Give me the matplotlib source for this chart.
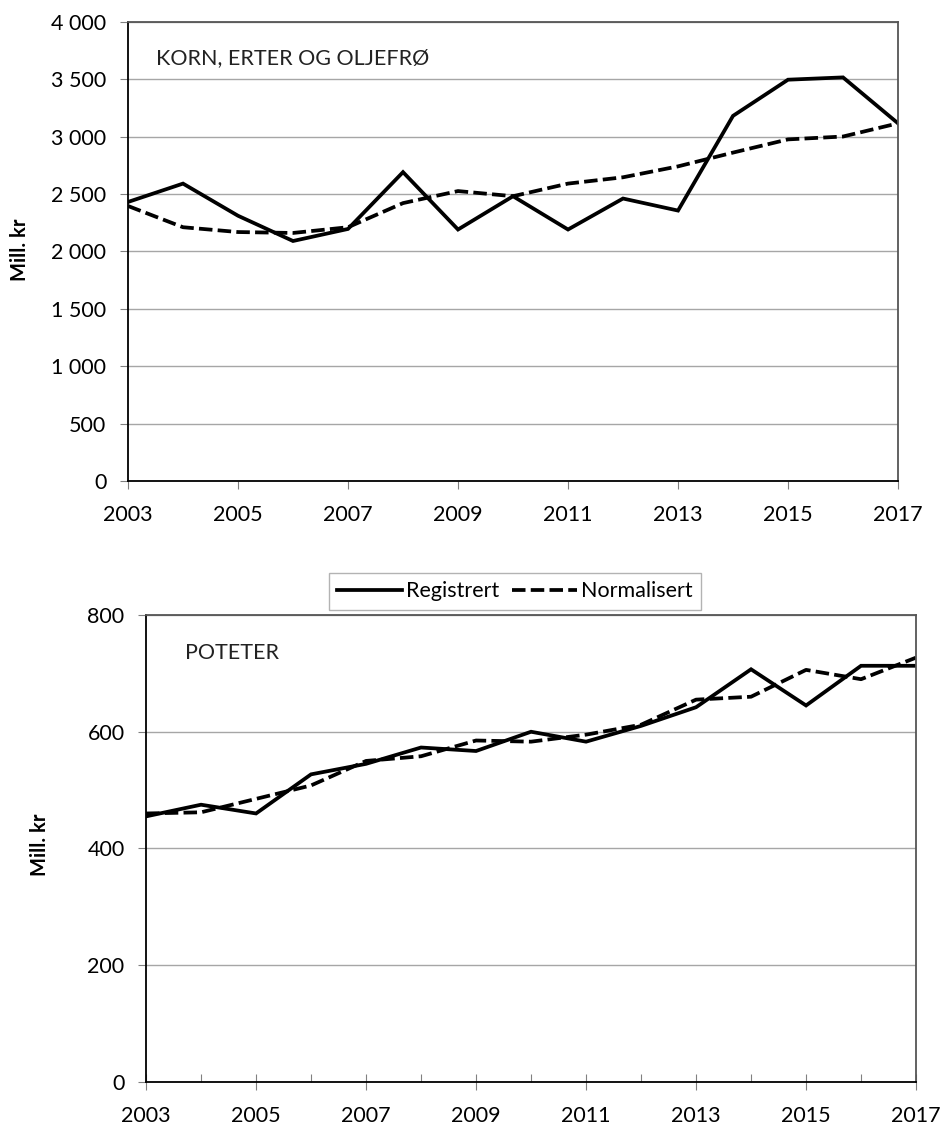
import matplotlib
matplotlib.use("Agg")
import matplotlib.pyplot as plt
from matplotlib.ticker import FuncFormatter, MultipleLocator

plt.rcParams['font.family'] = ['Lato', 'DejaVu Sans']

# data
years = list(range(2003, 2018))
korn_reg = [2430, 2590, 2310, 2090, 2195, 2690, 2190, 2480, 2190, 2460, 2355, 3180, 3495, 3515, 3115]
korn_norm = [2395, 2210, 2168, 2160, 2210, 2420, 2525, 2480, 2590, 2645, 2740, 2860, 2975, 3000, 3115]
pot_reg = [455, 475, 460, 527, 545, 573, 567, 600, 583, 610, 642, 707, 645, 713, 713]
pot_norm = [460, 462, 485, 508, 550, 558, 585, 583, 595, 612, 655, 660, 706, 690, 727]
xticks = [2003, 2005, 2007, 2009, 2011, 2013, 2015, 2017]

fs = 15.5
lw = 2.7
dash = (0, (3.6, 1.4))


def space_thousands(v, pos):
    return f"{int(v):,}".replace(",", " ")


def style_axes(ax, ymax, ystep):
    ax.set_xlim(2003, 2017)
    ax.set_ylim(0, ymax)
    ax.yaxis.set_major_locator(MultipleLocator(ystep))
    ax.yaxis.set_major_formatter(FuncFormatter(space_thousands))
    ax.set_xticks(xticks)
    ax.grid(axis='y', color='#a6a6a6', linewidth=1.0)
    ax.set_axisbelow(True)
    for s in ['top', 'right']:
        ax.spines[s].set_color('#555555')
        ax.spines[s].set_linewidth(1.3)
    for s in ['left', 'bottom']:
        ax.spines[s].set_color('black')
        ax.spines[s].set_linewidth(1.3)
    ax.tick_params(axis='y', direction='out', length=5.5, width=0.8, color='#808080',
                   pad=10, labelsize=fs)
    ax.tick_params(axis='x', direction='out', length=5.5, width=0.8, color='#808080',
                   pad=12, labelsize=fs)


fig = plt.figure(figsize=(9.44, 11.37), dpi=100)

# top panel - korn
ax1 = fig.add_axes([0.1356, 0.5770, 0.8157, 0.4039])
ax1.plot(years, korn_reg, color='black', lw=lw, solid_joinstyle='miter', label='Registrert')
ax1.plot(years, korn_norm, color='black', lw=lw, linestyle=dash, label='Normalisert')
style_axes(ax1, 4000, 500)
ax1.text(0.036, 0.921, 'KORN, ERTER OG OLJEFRØ', transform=ax1.transAxes,
         fontsize=fs, va='center', ha='left', color='#222222')
fig.text(0.021, 0.78, 'Mill. kr', rotation=90, fontsize=14.5, fontweight='bold',
         ha='center', va='center')

# bottom panel - poteter
ax2 = fig.add_axes([0.1547, 0.0484, 0.8157, 0.4107])
ax2.plot(years, pot_reg, color='black', lw=lw, solid_joinstyle='miter', label='Registrert')
ax2.plot(years, pot_norm, color='black', lw=lw, linestyle=dash, label='Normalisert')
style_axes(ax2, 800, 200)
ax2.xaxis.set_minor_locator(MultipleLocator(1))
ax2.tick_params(axis='x', which='major', direction='inout', length=11)
ax2.tick_params(axis='x', which='minor', direction='in', length=6, width=0.8, color='#808080')
ax2.text(0.051, 0.918, 'POTETER', transform=ax2.transAxes,
         fontsize=fs, va='center', ha='left', color='#222222')
fig.text(0.042, 0.257, 'Mill. kr', rotation=90, fontsize=14.5, fontweight='bold',
         ha='center', va='center')

leg = fig.legend(*ax2.get_legend_handles_labels(), loc='center', ncol=2,
                 bbox_to_anchor=(0.5455, 0.480), fontsize=fs, frameon=True,
                 fancybox=False, edgecolor='#a0a0a0', handlelength=3.0,
                 handletextpad=0.2, columnspacing=0.6, borderpad=0.4)
leg.get_frame().set_linewidth(1.0)

fig.savefig('out.png', dpi=100)
